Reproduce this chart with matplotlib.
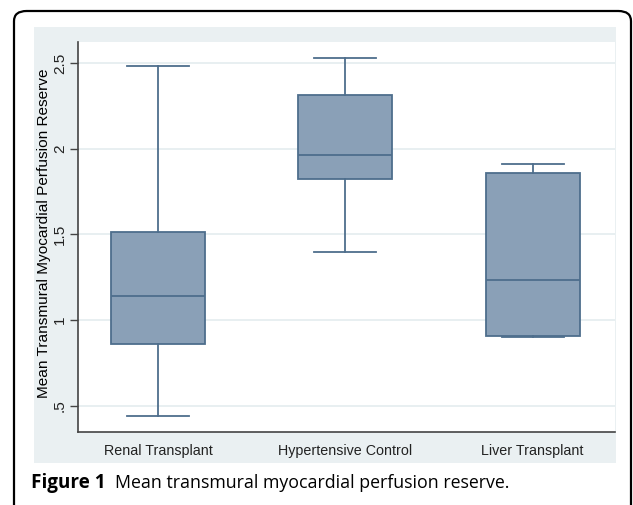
import matplotlib.pyplot as plt
from matplotlib.patches import Rectangle, FancyBboxPatch

# box statistics
grupos = ['Renal Transplant', 'Hypertensive Control', 'Liver Transplant']
minimos = [0.443, 1.40, 0.903]
q1 = [0.864, 1.823, 0.908]
medianas = [1.142, 1.961, 1.235]
q3 = [1.517, 2.312, 1.860]
maximos = [2.483, 2.527, 1.911]

yticks = [0.5, 1.0, 1.5, 2.0, 2.5]
ytick_labels = ['.5', '1', '1.5', '2', '2.5']

W, H = 633, 505
fig = plt.figure(figsize=(W / 100, H / 100), dpi=100)

# outer rounded frame (cut at the bottom like the page)
frame = FancyBboxPatch((14 / W, -0.2), (631 - 14) / W, (H - 11) / H + 0.2,
                       boxstyle='round,pad=0,rounding_size=0.02',
                       transform=fig.transFigure, facecolor='none',
                       edgecolor='black', linewidth=1.6, zorder=-2)
fig.patches.append(frame)

# stata-like graph region
fig.patches.append(Rectangle((34 / W, 1 - 463 / H), (616 - 34) / W, (463 - 27) / H,
                             transform=fig.transFigure, facecolor='#eaf0f2',
                             edgecolor='none', zorder=-1))

ax = fig.add_axes([78 / W, 1 - 432 / H, (615 - 78) / W, (432 - 42) / H])
ax.set_facecolor('white')

stats = []
for i in range(len(grupos)):
    stats.append({'label': grupos[i], 'whislo': minimos[i], 'q1': q1[i],
                  'med': medianas[i], 'q3': q3[i], 'whishi': maximos[i]})

cor_borda = '#4e6e8c'
ax.bxp(stats, positions=[1, 2, 3], widths=0.503, patch_artist=True,
       showfliers=False,
       boxprops=dict(facecolor='#8aa0b7', edgecolor=cor_borda, linewidth=1.3),
       medianprops=dict(color=cor_borda, linewidth=1.3),
       whiskerprops=dict(color=cor_borda, linewidth=1.3),
       capprops=dict(color=cor_borda, linewidth=1.3),
       capwidths=0.33, zorder=3)

ax.set_xlim(0.572, 3.44)
ax.set_ylim(0.348, 2.622)
ax.set_yticks(yticks)
ax.set_yticklabels(ytick_labels, rotation=90, va='center',
                   fontsize=11.1, family='Liberation Sans', color='#222222')
ax.set_xticks([1, 2, 3])
ax.set_xticklabels(grupos, fontsize=10.3, family='Liberation Sans', color='#222222')
ax.tick_params(axis='x', length=0, pad=9)
ax.tick_params(axis='y', length=6, width=1, color='#444444', pad=2)
ax.grid(True, axis='y', color='#e8eff1', linewidth=1.4, zorder=0)
ax.set_axisbelow(True)

for s in ['top', 'right']:
    ax.spines[s].set_visible(False)
for s in ['left', 'bottom']:
    ax.spines[s].set_color('#444444')
    ax.spines[s].set_linewidth(1.2)

ax.set_ylabel('Mean Transmural Myocardial Perfusion Reserve', fontsize=11.1,
              family='Liberation Sans', labelpad=0)
ax.yaxis.set_label_coords(-0.050, 0.51)

# caption
ybase = 1 - 488 / H
t1 = fig.text(31 / W, ybase, 'Figure 1', fontsize=13.6, weight='bold',
              family='Open Sans', va='baseline')
r = fig.canvas.get_renderer()
bb = t1.get_window_extent(renderer=r)
fig.text((bb.x1 + 9) / W, ybase, 'Mean transmural myocardial perfusion reserve.',
         fontsize=12.8, family='Open Sans', va='baseline')

fig.savefig('out.png', dpi=100)
